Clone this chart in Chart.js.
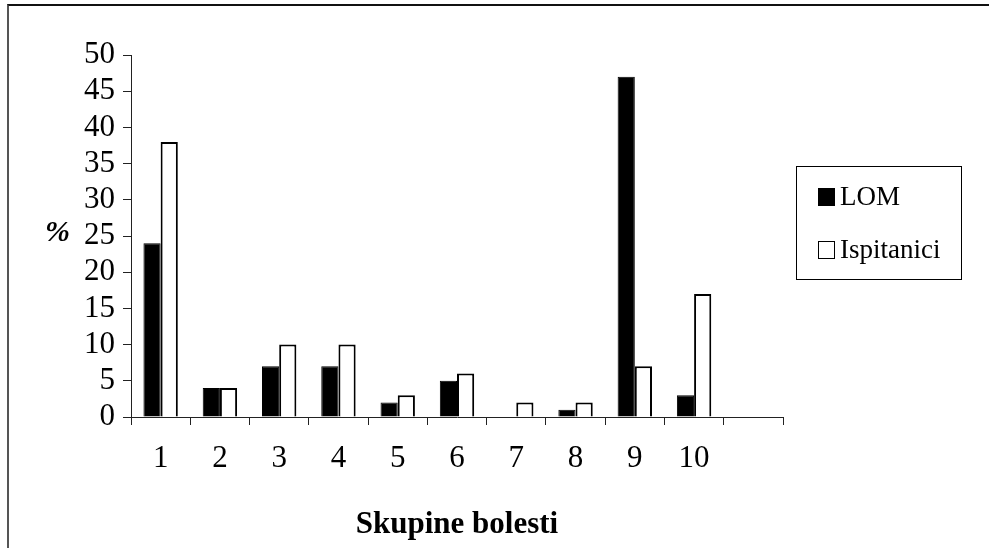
<!DOCTYPE html>
<html>
<head>
<meta charset="utf-8">
<script src="https://cdn.jsdelivr.net/npm/chart.js@4.4.1/dist/chart.umd.min.js"></script>
<style>
    body { margin: 0; background: #fff; }
    #wrap { position: relative; width: 989px; height: 548px; overflow: hidden; font-family: "Liberation Serif", "Times New Roman", serif; }
    #frame { position: absolute; left: 7px; top: 4px; width: 1200px; height: 800px; border-top: 2px solid #111; border-left: 2px solid #555; }
    #chart { position: absolute; left: 0; top: 0; }
    #yTitle { position: absolute; left: 45px; top: 214px; font-size: 30px; font-weight: bold; font-style: italic; }
    #legendBox { position: absolute; left: 796px; top: 166px; width: 164px; height: 112px; border: 1px solid #000; }
    .item { position: absolute; left: 21px; font-size: 27px; line-height: 27px; }
    .sw { display: inline-block; width: 15px; height: 16px; border: 1px solid #000; margin-right: 5px; vertical-align: -1px; }
</style>
</head>
<body>
<div id="wrap">
    <div id="frame"></div>
    <canvas id="chart" width="989" height="548"></canvas>
    <div id="yTitle">%</div>
    <div id="legendBox">
        <div class="item" style="top: 16px;"><span class="sw" style="background:#000"></span>LOM</div>
        <div class="item" style="top: 69px;"><span class="sw" style="background:#fff"></span>Ispitanici</div>
    </div>
</div>
<script>
// Skupine bolesti 1-10, zadnje mjesto ostaje prazno
const categories = ['1', '2', '3', '4', '5', '6', '7', '8', '9', '10', ''];
const lomValues = [24, 4, 7, 7, 2, 5, 0, 1, 47, 3];
const ispitaniciValues = [38, 4, 10, 10, 3, 6, 2, 2, 7, 17];
const yTicks = [0, 5, 10, 15, 20, 25, 30, 35, 40, 45, 50];

const tickFont = { family: '"Liberation Serif", "Times New Roman", serif', size: 31 };

const ctx = document.getElementById('chart').getContext('2d');
new Chart(ctx, {
    type: 'bar',
    data: {
        labels: categories,
        datasets: [{
            label: 'LOM',
            data: lomValues,
            backgroundColor: '#000',
            borderColor: '#000',
            borderWidth: 1,
            categoryPercentage: 0.58,
            barPercentage: 1
        }, {
            label: 'Ispitanici',
            data: ispitaniciValues,
            backgroundColor: '#fff',
            borderColor: '#000',
            borderWidth: 2,
            categoryPercentage: 0.58,
            barPercentage: 1
        }]
    },
    options: {
        responsive: false,
        animation: false,
        layout: { padding: { top: 55, right: 206, left: 0, bottom: 0 } },
        plugins: {
            legend: { display: false },
            tooltip: { enabled: false }
        },
        scales: {
            x: {
                afterFit: s => { s.height = 131; },
                grid: { drawOnChartArea: false, drawTicks: true, tickLength: 8, color: '#222', offset: true },
                border: { display: true, color: '#222', width: 1 },
                ticks: { color: '#000', font: tickFont, padding: 15, maxRotation: 0, autoSkip: false },
                title: {
                    display: true,
                    text: 'Skupine bolesti',
                    color: '#000',
                    font: { family: tickFont.family, size: 31, weight: 'bold' },
                    padding: { top: 0, bottom: 4 }
                }
            },
            y: {
                min: 0,
                max: 50,
                afterFit: s => { s.width = 131; },
                afterBuildTicks: s => { s.ticks = yTicks.map(v => ({ value: v })); },
                grid: { drawOnChartArea: false, drawTicks: true, tickLength: 8, color: '#222' },
                border: { display: true, color: '#222', width: 1 },
                ticks: { color: '#000', font: tickFont, padding: 8, autoSkip: false }
            }
        }
    }
});
</script>
</body>
</html>
